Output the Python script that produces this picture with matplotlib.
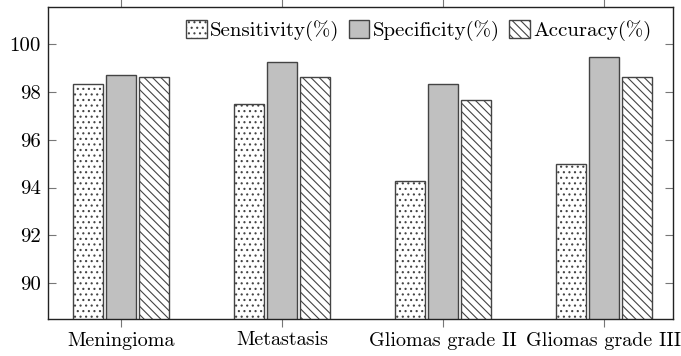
import matplotlib
matplotlib.use("Agg")
import matplotlib.pyplot as plt
import numpy as np

categories = ["Meningioma", "Metastasis", "Gliomas grade II", "Gliomas grade III"]
sensitivity = [98.35, 97.5, 94.28, 94.98]
specificity = [98.7, 99.26, 98.35, 99.46]
accuracy = [98.62, 98.61, 97.68, 98.61]
series_names = ["Sensitivity(%)", "Specificity(%)", "Accuracy(%)"]
yticks = [90, 92, 94, 96, 98, 100]

plt.rcParams['font.family'] = ['cmr10', 'DejaVu Serif']
plt.rcParams['axes.formatter.use_mathtext'] = True
plt.rcParams['hatch.linewidth'] = 0.8
plt.rcParams['hatch.color'] = '#333333'

fig = plt.figure(figsize=(6.81, 3.56), dpi=100)
ax = fig.add_axes([48/681, 1-319/356, (673-48)/681, (319-7)/356])

x = np.arange(len(categories))
w = 0.185
off = 0.205
ec = '#444444'
ax.bar(x - off, sensitivity, w, color='white', edgecolor=ec, hatch='...', linewidth=1.0, label=series_names[0])
ax.bar(x, specificity, w, color='#c0c0c0', edgecolor=ec, linewidth=1.0, label=series_names[1])
ax.bar(x + off, accuracy, w, color='white', edgecolor=ec, hatch='\\\\\\\\', linewidth=1.0, label=series_names[2])

ax.set_ylim(88.5, 101.55)
ax.set_xlim(-0.455, 3.43)
ax.set_yticks(yticks)
ax.set_yticklabels([str(t) for t in yticks])
ax.set_xticks(x)
ax.set_xticklabels(categories)

ax.tick_params(axis='y', direction='in', left=True, right=True, length=6, width=0.8, color='#777777', labelsize=15, pad=5)
ax.tick_params(axis='x', direction='out', bottom=True, top=True, length=6, width=0.8, color='#777777', labelsize=14.5, pad=3)
for s in ax.spines.values():
    s.set_linewidth(1.0)
    s.set_color('#222222')

leg = ax.legend(loc='upper right', ncol=3, frameon=False, fontsize=15,
                handlelength=1.0, handleheight=1.0, handletextpad=0.15,
                columnspacing=0.45, borderaxespad=0.2, bbox_to_anchor=(0.985, 1.0))

fig.savefig('out.png', dpi=100)
